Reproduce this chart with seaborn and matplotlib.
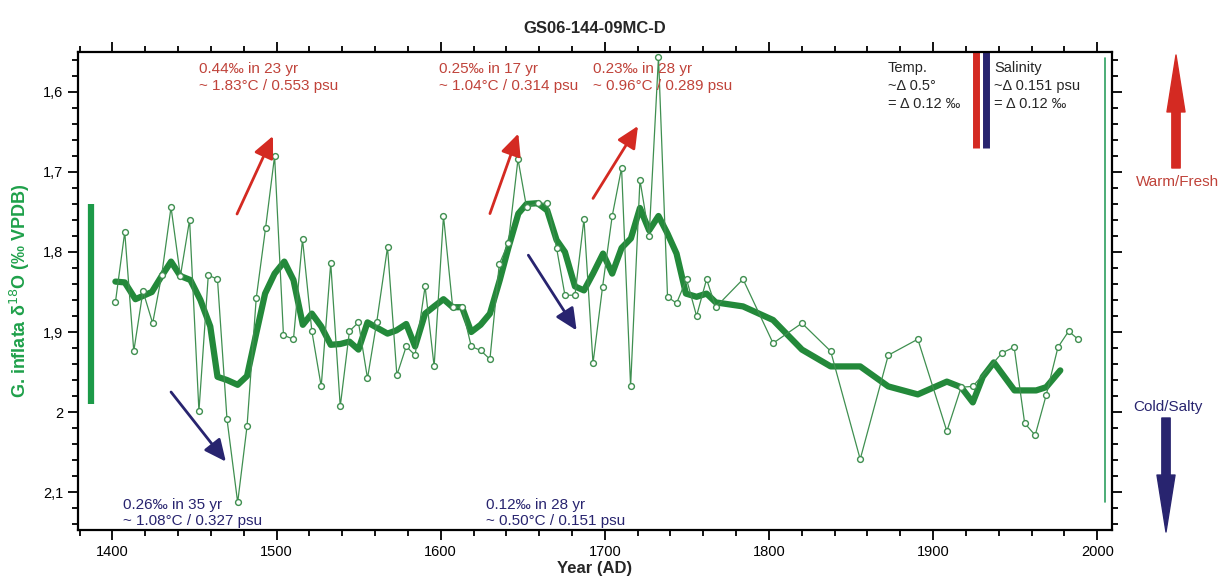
import numpy as np
import matplotlib
matplotlib.use("Agg")
import matplotlib.pyplot as plt
from matplotlib.ticker import MultipleLocator, FuncFormatter
import seaborn as sns

# raw d18O measurements (year AD, permil VPDB)
years = [1401.8, 1407.5, 1413.0, 1418.6, 1424.5, 1430.0, 1435.7, 1441.4, 1447.0, 1452.7,
         1458.4, 1464.0, 1469.8, 1476.3, 1482.0, 1487.6, 1493.3, 1498.8, 1504.2, 1510.3,
         1515.8, 1521.5, 1527.2, 1533.0, 1538.8, 1544.4, 1549.9, 1555.4, 1561.0, 1567.6,
         1573.3, 1579.0, 1584.4, 1590.5, 1596.0, 1601.7, 1607.3, 1613.0, 1618.6, 1624.3,
         1630.0, 1635.7, 1641.2, 1647.1, 1652.3, 1659.0, 1664.9, 1670.6, 1675.7, 1681.8,
         1687.3, 1692.8, 1698.6, 1704.5, 1710.2, 1715.7, 1721.4, 1727.0, 1732.7, 1738.2,
         1743.7, 1749.8, 1755.9, 1762.0, 1767.6, 1784.2, 1802.5, 1820.1, 1837.6, 1855.6,
         1872.7, 1890.7, 1908.4, 1917.1, 1924.2, 1942.1, 1949.4, 1955.8, 1962.2, 1968.9,
         1976.1, 1982.6, 1988.3]
d18o = [1.863, 1.775, 1.924, 1.849, 1.889, 1.829, 1.744, 1.830, 1.760, 1.999,
        1.829, 1.834, 2.009, 2.113, 2.018, 1.858, 1.770, 1.680, 1.904, 1.909,
        1.784, 1.899, 1.968, 1.814, 1.993, 1.899, 1.888, 1.958, 1.888, 1.794,
        1.954, 1.918, 1.929, 1.843, 1.943, 1.755, 1.869, 1.869, 1.918, 1.923,
        1.934, 1.815, 1.789, 1.684, 1.744, 1.739, 1.739, 1.795, 1.854, 1.854,
        1.759, 1.939, 1.844, 1.755, 1.695, 1.968, 1.710, 1.780, 1.556, 1.856,
        1.864, 1.834, 1.880, 1.834, 1.869, 1.834, 1.914, 1.889, 1.924, 2.059,
        1.929, 1.909, 2.024, 1.969, 1.968, 1.926, 1.919, 2.014, 2.029, 1.979,
        1.919, 1.899, 1.909]

# smoothed record (thick line)
smooth_years = [1401.8, 1407.5, 1414.0, 1424.0, 1430.0, 1435.7, 1441.4, 1447.5, 1453.6, 1459.6,
                1464.0, 1469.8, 1476.3, 1482.0, 1487.6, 1493.0, 1498.8, 1504.7, 1510.3, 1516.0,
                1521.5, 1527.2, 1533.0, 1538.8, 1544.4, 1549.9, 1555.4, 1561.5, 1567.6, 1573.0,
                1579.0, 1584.4, 1590.5, 1596.0, 1601.7, 1607.3, 1613.0, 1618.6, 1624.3, 1630.0,
                1636.0, 1641.2, 1647.3, 1652.3, 1659.0, 1664.9, 1670.6, 1675.7, 1681.8, 1687.3,
                1692.8, 1698.9, 1704.5, 1710.2, 1715.9, 1721.4, 1727.0, 1732.7, 1738.2, 1743.7,
                1749.4, 1755.9, 1762.0, 1767.6, 1784.2, 1802.5, 1820.1, 1837.6, 1855.6, 1872.7,
                1890.7, 1908.4, 1917.1, 1924.2, 1930.3, 1937.0, 1949.6, 1962.8, 1968.9, 1977.5]
smooth_d18o = [1.837, 1.838, 1.859, 1.850, 1.830, 1.812, 1.830, 1.835, 1.860, 1.893,
               1.956, 1.960, 1.966, 1.955, 1.902, 1.852, 1.827, 1.812, 1.835, 1.891,
               1.877, 1.893, 1.916, 1.915, 1.912, 1.922, 1.888, 1.895, 1.902, 1.898,
               1.890, 1.918, 1.877, 1.868, 1.859, 1.869, 1.869, 1.900, 1.891, 1.877,
               1.835, 1.795, 1.752, 1.740, 1.739, 1.748, 1.785, 1.800, 1.843, 1.848,
               1.827, 1.802, 1.827, 1.795, 1.783, 1.745, 1.773, 1.755, 1.777, 1.802,
               1.852, 1.856, 1.852, 1.863, 1.868, 1.885, 1.922, 1.943, 1.943, 1.968,
               1.978, 1.962, 1.969, 1.988, 1.956, 1.938, 1.973, 1.973, 1.969, 1.948]

# trend annotations: text, x, arrow start, arrow end
warm_notes = ["0.44‰ in 23 yr\n~ 1.83°C / 0.553 psu",
              "0.25‰ in 17 yr\n~ 1.04°C / 0.314 psu",
              "0.23‰ in 28 yr\n~ 0.96°C / 0.289 psu"]
warm_text_x = [1452.9, 1599.0, 1692.8]
warm_arrows = [((1475.9, 1.7525), (1497.8, 1.655)),
               ((1630.0, 1.752), (1647.3, 1.652)),
               ((1692.8, 1.733), (1720.2, 1.6425))]
cold_notes = ["0.26‰ in 35 yr\n~ 1.08°C / 0.327 psu",
              "0.12‰ in 28 yr\n~ 0.50°C / 0.151 psu"]
cold_text_x = [1406.5, 1627.6]
cold_arrows = [((1435.7, 1.975), (1469.1, 2.062)),
               ((1653.4, 1.804), (1682.8, 1.898))]

RED_TXT = "#c0433a"
RED = "#d42a22"
NAVY = "#28246f"
GREEN_THIN = "#3f8f50"
GREEN_THICK = "#23893a"
GREEN_BAR = "#1c9a48"

sns.set_style("ticks")
plt.rcParams["font.family"] = ["Liberation Sans", "DejaVu Sans"]

fig = plt.figure(figsize=(12.26, 5.82), dpi=100)
ax = fig.add_axes([0.0636, 0.0893, 0.8434, 0.8214])

sns.lineplot(x=smooth_years, y=smooth_d18o, ax=ax, color=GREEN_THICK, lw=4.5,
             estimator=None, sort=False, zorder=2)
sns.lineplot(x=years, y=d18o, ax=ax, color=GREEN_THIN, lw=0.9, marker="o",
             markersize=4.2, markerfacecolor="white", markeredgecolor=GREEN_THIN,
             markeredgewidth=1.0, estimator=None, sort=False, zorder=3)

ax.set_xlim(1379, 2009)
ax.set_ylim(2.1475, 1.55)

# scale bars
ax.plot([1387, 1387], [1.74, 1.99], color=GREEN_BAR, lw=4.5, solid_capstyle="butt")
ax.plot([2005, 2005], [1.5575, 2.1125], color="#2ea060", lw=1.2)
ax.plot([1926, 1926], [1.55, 1.67], color=RED, lw=5, solid_capstyle="butt")
ax.plot([1932, 1932], [1.55, 1.67], color=NAVY, lw=5, solid_capstyle="butt")

for txt, tx in zip(warm_notes, warm_text_x):
    ax.text(tx, 1.582, txt, color=RED_TXT, fontsize=11, ha="left", va="center")
for txt, tx in zip(cold_notes, cold_text_x):
    ax.text(tx, 2.126, txt, color=NAVY, fontsize=11, ha="left", va="center")
for (p0, p1) in warm_arrows:
    ax.annotate("", xy=p1, xytext=p0,
                arrowprops=dict(arrowstyle="-|>,head_length=0.6,head_width=0.28",
                                color=RED, lw=2, mutation_scale=22, shrinkA=0, shrinkB=0))
for (p0, p1) in cold_arrows:
    ax.annotate("", xy=p1, xytext=p0,
                arrowprops=dict(arrowstyle="-|>,head_length=0.6,head_width=0.28",
                                color=NAVY, lw=2, mutation_scale=22, shrinkA=0, shrinkB=0))

ax.text(1872.3, 1.5925, "Temp.\n~Δ 0.5°\n= Δ 0.12 ‰", fontsize=10.5, ha="left", va="center",
        linespacing=1.35)
ax.text(1937.4, 1.5925, "Salinity\n~Δ 0.151 psu\n= Δ 0.12 ‰", fontsize=10.5, ha="left",
        va="center", linespacing=1.35)

# warm / cold direction arrows outside the axes
ax.annotate("", xy=(1176, 527), xytext=(1176, 414), xycoords="figure pixels",
            arrowprops=dict(arrowstyle="simple,head_length=4.1,head_width=1.3,tail_width=0.6",
                            color=RED, mutation_scale=10, shrinkA=0, shrinkB=0))
ax.annotate("", xy=(1166, 50), xytext=(1166, 164), xycoords="figure pixels",
            arrowprops=dict(arrowstyle="simple,head_length=4.1,head_width=1.3,tail_width=0.6",
                            color=NAVY, mutation_scale=10, shrinkA=0, shrinkB=0))
fig.text(1178 / 1226, 1 - 182 / 582, "Warm/Fresh", color=RED_TXT, fontsize=11,
         ha="center", va="center")
fig.text(1168 / 1226, 1 - 407 / 582, "Cold/Salty", color=NAVY, fontsize=11,
         ha="center", va="center")

ax.xaxis.set_major_locator(MultipleLocator(100))
ax.xaxis.set_minor_locator(MultipleLocator(20))
ax.yaxis.set_major_locator(MultipleLocator(0.1))
ax.yaxis.set_minor_locator(MultipleLocator(0.02))
ax.yaxis.set_major_formatter(FuncFormatter(lambda v, p: f"{v:g}".replace(".", ",")))
ax.tick_params(which="both", direction="out", top=True, right=True, width=1.3,
               labelsize=10.5, colors="black")
ax.tick_params(which="major", length=7)
ax.tick_params(which="minor", length=4.5)
ax.tick_params(axis="x", which="major", pad=4)
for s in ax.spines.values():
    s.set_linewidth(1.6)
    s.set_color("black")

ax.set_title("GS06-144-09MC-D", fontsize=12, fontweight="bold", pad=14)
ax.set_xlabel("Year (AD)", fontsize=12, fontweight="bold", labelpad=1)
ax.set_ylabel("G. inflata δ$^{18}$O (‰ VPDB)", fontsize=13, fontweight="bold",
              color="#1ea04a", labelpad=8)

fig.savefig("out.png", dpi=100)
